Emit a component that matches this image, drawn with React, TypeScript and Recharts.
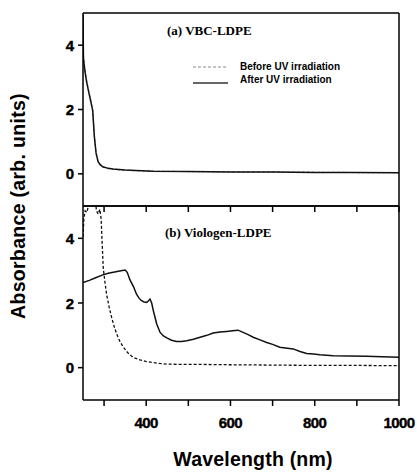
import { LineChart, Line, XAxis, YAxis } from 'recharts'

// panel (a) VBC-LDPE
const aBeforeWl = [250, 251, 254, 258, 263, 268, 273, 277, 281, 286, 292, 297, 310, 321, 350, 416, 500, 600, 700, 800, 900, 1000]
const aBeforeAbs = [4.95, 3.7, 3.3, 2.95, 2.6, 2.3, 1.95, 1.2, 0.62, 0.36, 0.26, 0.21, 0.16, 0.14, 0.11, 0.08, 0.07, 0.06, 0.06, 0.05, 0.04, 0.04]
const aAfterWl = [250, 251, 254, 258, 263, 268, 273, 277, 281, 286, 292, 297, 310, 321, 350, 416, 500, 600, 700, 800, 900, 1000]
const aAfterAbs = [4.95, 3.6, 3.25, 2.9, 2.58, 2.28, 1.97, 1.15, 0.65, 0.37, 0.27, 0.22, 0.17, 0.15, 0.12, 0.08, 0.07, 0.06, 0.06, 0.04, 0.04, 0.03]

// panel (b) Viologen-LDPE
const bBeforeWl = [250, 252, 255, 259, 262, 266, 278, 282, 286, 290, 293, 295, 298, 302, 306, 312, 318, 324, 330, 338, 346, 357, 369, 385, 401, 425, 449, 490, 528, 600, 700, 800, 900, 1000]
const bBeforeAbs = [4.05, 4.6, 4.85, 4.8, 4.95, 5.3, 5.3, 4.85, 4.75, 4.9, 4.6, 4.0, 3.1, 2.65, 2.27, 1.88, 1.55, 1.27, 1.04, 0.8, 0.63, 0.45, 0.32, 0.24, 0.19, 0.14, 0.11, 0.1, 0.1, 0.09, 0.08, 0.07, 0.07, 0.06]
const bAfterWl = [250, 265, 280, 297, 310, 325, 340, 350, 355, 361, 370, 377, 383, 389, 395, 401, 405, 409, 413, 417, 425, 433, 441, 449, 460, 472, 484, 496, 512, 528, 544, 559, 575, 591, 605, 618, 630, 642, 654, 670, 686, 700, 717, 735, 749, 765, 781, 797, 812, 844, 880, 923, 960, 1000]
const bAfterAbs = [2.63, 2.7, 2.78, 2.87, 2.92, 2.96, 3.0, 3.02, 2.95, 2.73, 2.5, 2.27, 2.15, 2.07, 2.03, 2.02, 2.06, 2.12, 2.0, 1.76, 1.35, 1.09, 0.98, 0.92, 0.85, 0.81, 0.81, 0.83, 0.88, 0.94, 1.0, 1.07, 1.1, 1.12, 1.14, 1.16, 1.09, 1.02, 0.94, 0.86, 0.78, 0.72, 0.63, 0.6, 0.58, 0.5, 0.44, 0.42, 0.4, 0.37, 0.36, 0.35, 0.34, 0.32]

const xTicks = [300, 400, 500, 600, 700, 800, 900, 1000]
const yTicks = [0, 2, 4]

const SANS = "Arial, 'Liberation Sans', sans-serif"
const SERIF = "'Times New Roman', 'Liberation Serif', serif"

const pts = (wl: number[], abs: number[]) => wl.map((w, i) => ({ wl: w, abs: abs[i] }))

// x is tick position, y = axis + tickSize (tickMargin 0)
function renderXTick(props: any, showLabel: boolean) {
  const { x, y, payload } = props
  const major = payload.value % 200 === 0
  if (!showLabel || !major) return <g />
  return (
    <text x={x} y={Number(y) + 16} textAnchor="middle" dominantBaseline="central" style={{ fontFamily: SANS, fontWeight: 700, fontSize: 15 }} fill="#000" stroke="#000" strokeWidth={0.4} letterSpacing={-0.6}>
      {payload.value}
    </text>
  )
}

function renderYTick(props: any) {
  const { x, y, payload } = props
  return (
    <text x={Number(x) - 4} y={y} textAnchor="end" dominantBaseline="central" style={{ fontFamily: SANS, fontWeight: 700, fontSize: 15 }} fill="#000" stroke="#000" strokeWidth={0.4}>
      {payload.value}
    </text>
  )
}

const axisStyle = { stroke: '#000', strokeWidth: 1.5 }

function Panel({ height, top, bottom, xHeight, showLabels, series }: any) {
  return (
    <LineChart width={417} height={height} margin={{ top, right: 17, bottom, left: 0 }}>
      <XAxis
        type="number"
        dataKey="wl"
        domain={[250, 1000]}
        allowDataOverflow
        ticks={xTicks}
        tickSize={6}
        tickMargin={0}
        tickLine={axisStyle}
        height={xHeight}
        axisLine={axisStyle}
        tick={(p: any) => renderXTick(p, showLabels)}
        interval={0}
      />
      <XAxis xAxisId="top" orientation="top" type="number" domain={[250, 1000]} height={1} tick={false} tickLine={false} axisLine={axisStyle} />
      <YAxis
        type="number"
        domain={[-1, 5]}
        allowDataOverflow
        ticks={yTicks}
        tickSize={5}
        tickMargin={0}
        tickLine={axisStyle}
        width={83}
        axisLine={axisStyle}
        tick={renderYTick}
        interval={0}
      />
      <YAxis yAxisId="r" orientation="right" domain={[-1, 5]} width={1} tick={false} tickLine={false} axisLine={axisStyle} />
      {series.map((s: any) => (
        <Line
          key={s.name}
          name={s.name}
          data={s.data}
          dataKey="abs"
          type="linear"
          stroke={s.color}
          strokeWidth={s.width}
          strokeDasharray={s.dash}
          dot={false}
          activeDot={false}
          isAnimationActive={false}
        />
      ))}
    </LineChart>
  )
}

export default function App() {
  const seriesA = [
    { name: 'Before UV irradiation', data: pts(aBeforeWl, aBeforeAbs), color: '#8a8a8a', width: 1.2, dash: '3 2' },
    { name: 'After UV irradiation', data: pts(aAfterWl, aAfterAbs), color: '#111', width: 1.5 },
  ]
  const seriesB = [
    { name: 'Before UV irradiation', data: pts(bBeforeWl, bBeforeAbs), color: '#111', width: 1.3, dash: '3 2' },
    { name: 'After UV irradiation', data: pts(bAfterWl, bAfterAbs), color: '#111', width: 1.5 },
  ]
  return (
    <div style={{ position: 'absolute', left: 0, top: 0, width: 417, height: 472, background: '#fff' }}>
      <div style={{ position: 'absolute', left: 0, top: 200 }}>
        <Panel height={272} top={5} bottom={0} xHeight={72} showLabels={true} series={seriesB} />
      </div>
      <div style={{ position: 'absolute', left: 0, top: 0 }}>
        <Panel height={215} top={12} bottom={8} xHeight={1} showLabels={false} series={seriesA} />
      </div>

      <div style={{ position: 'absolute', left: 167, top: 23, fontFamily: SERIF, fontWeight: 'bold', fontSize: 13, whiteSpace: 'nowrap' }}>
        (a) VBC-LDPE
      </div>
      <div style={{ position: 'absolute', left: 165, top: 225, fontFamily: SERIF, fontWeight: 'bold', fontSize: 13, whiteSpace: 'nowrap' }}>
        (b) Viologen-LDPE
      </div>

      <svg style={{ position: 'absolute', left: 190, top: 60 }} width={42} height={30}>
        <line x1={3} x2={38} y1={7} y2={7} stroke="#8a8a8a" strokeWidth={1.2} strokeDasharray="3 2" />
        <line x1={3} x2={38} y1={23} y2={23} stroke="#333" strokeWidth={1.5} />
      </svg>
      <div style={{ position: 'absolute', left: 240, top: 60, fontFamily: SANS, fontWeight: 'bold', fontSize: 10, lineHeight: '13px', whiteSpace: 'nowrap' }}>
        <div>Before UV irradiation</div>
        <div>After UV irradiation</div>
      </div>

      <div style={{ position: 'absolute', left: 18, top: 206, transform: 'translate(-50%, -50%) rotate(-90deg)', fontFamily: SANS, fontWeight: 'bold', fontSize: 19.5, letterSpacing: 0.3, whiteSpace: 'nowrap' }}>
        Absorbance (arb. units)
      </div>
      <div style={{ position: 'absolute', left: 253, top: 459, transform: 'translate(-50%, -50%)', fontFamily: SANS, fontWeight: 'bold', fontSize: 19.5, letterSpacing: 0.2, whiteSpace: 'nowrap' }}>
        Wavelength (nm)
      </div>
    </div>
  )
}
